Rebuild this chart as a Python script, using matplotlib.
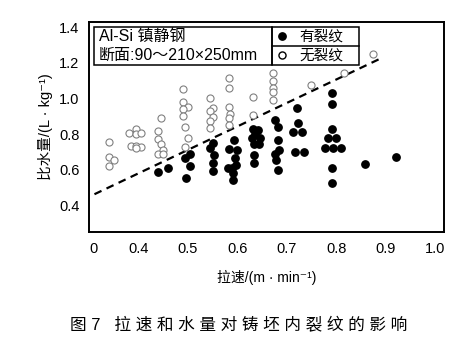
import matplotlib
matplotlib.use("Agg")
import matplotlib.pyplot as plt
from matplotlib.patches import Rectangle
import numpy as np

plt.rcParams['font.family'] = ['Liberation Sans', 'Noto Sans CJK SC', 'DejaVu Sans']

# ---- data ----
# no crack (open circles)
x_open = [0.34, 0.34, 0.35, 0.34,
          0.38, 0.395, 0.395, 0.405, 0.385, 0.395, 0.405, 0.395,
          0.445, 0.44, 0.44, 0.445, 0.45, 0.44, 0.45,
          0.49, 0.49, 0.50, 0.49, 0.49, 0.495, 0.50, 0.495,
          0.545, 0.55, 0.545, 0.55, 0.545, 0.545,
          0.583, 0.583, 0.583, 0.585, 0.583, 0.583,
          0.631, 0.631,
          0.672, 0.672, 0.672, 0.672, 0.672,
          0.75, 0.815, 0.875]
y_open = [0.755, 0.67, 0.655, 0.62,
          0.805, 0.83, 0.80, 0.805, 0.73, 0.73, 0.725, 0.72,
          0.89, 0.815, 0.77, 0.745, 0.71, 0.69, 0.69,
          1.05, 0.98, 0.95, 0.94, 0.90, 0.84, 0.78, 0.725,
          1.00, 0.945, 0.93, 0.895, 0.875, 0.835,
          1.115, 1.06, 0.95, 0.915, 0.89, 0.85,
          1.01, 0.905,
          1.14, 1.10, 1.06, 1.035, 0.99,
          1.075, 1.14, 1.25]

# crack (filled dots)
x_crack = [0.44, 0.46,
           0.505, 0.495, 0.505, 0.497,
           0.55, 0.545, 0.552, 0.55, 0.55,
           0.593, 0.583, 0.599, 0.595, 0.581, 0.589, 0.597, 0.591, 0.591,
           0.631, 0.641, 0.635, 0.645, 0.629, 0.633, 0.643, 0.633, 0.633,
           0.676, 0.682, 0.682, 0.684, 0.676, 0.678, 0.682,
           0.72, 0.722, 0.713, 0.73, 0.716, 0.734,
           0.791, 0.791, 0.791, 0.783, 0.80, 0.777, 0.794, 0.81, 0.791, 0.791,
           0.858, 0.921]
y_crack = [0.585, 0.61,
           0.69, 0.665, 0.62, 0.555,
           0.75, 0.72, 0.68, 0.635, 0.59,
           0.765, 0.715, 0.71, 0.665, 0.61, 0.61, 0.625, 0.58, 0.54,
           0.83, 0.82, 0.80, 0.78, 0.775, 0.743, 0.743, 0.68, 0.636,
           0.88, 0.84, 0.765, 0.71, 0.69, 0.655, 0.60,
           0.945, 0.86, 0.81, 0.81, 0.70, 0.70,
           1.03, 0.97, 0.83, 0.775, 0.775, 0.72, 0.72, 0.72, 0.61, 0.525,
           0.63, 0.67]

# boundary line
line_x = [0.311, 0.895]
line_y = [0.462, 1.231]

xticks = [0.31, 0.4, 0.5, 0.6, 0.7, 0.8, 0.9, 1.0]
xtick_labels = ['0', '0.4', '0.5', '0.6', '0.7', '0.8', '0.9', '1.0']
yticks = [0.4, 0.6, 0.8, 1.0, 1.2, 1.4]
ytick_labels = ['0.4', '0.6', '0.8', '1.0', '1.2', '1.4']

fig = plt.figure(figsize=(4.72, 3.52), dpi=100)
ax = fig.add_axes([0.1886, 0.341, 0.752, 0.597])

ax.scatter(x_open, y_open, s=26, facecolors='white', edgecolors='#808080', linewidths=0.8, zorder=3)
ax.scatter(x_crack, y_crack, s=28, c='black', zorder=4)
ax.plot(line_x, line_y, color='black', ls=(0, (3.5, 2.5)), lw=1.6, zorder=2)

ax.set_xlim(0.30, 1.018)
ax.set_ylim(0.25, 1.43)
ax.set_xticks(xticks)
ax.set_xticklabels(xtick_labels)
ax.set_yticks(yticks)
ax.set_yticklabels(ytick_labels)
ax.tick_params(length=0, labelsize=10.5, pad=7)
for sp in ax.spines.values():
    sp.set_linewidth(1.4)

ax.set_xlabel('拉速/(m · min⁻¹)', fontsize=10, labelpad=10)
ax.set_ylabel('比水量/(L · kg⁻¹)', fontsize=10.5, labelpad=4)

# boxes on top
tr = ax.transAxes
ax.add_patch(Rectangle((0.014, 0.795), 0.501, 0.181, transform=tr, fill=False, lw=1.1, zorder=5))
ax.add_patch(Rectangle((0.515, 0.795), 0.246, 0.181, transform=tr, fill=False, lw=1.1, zorder=5))
ax.plot([0.515, 0.761], [0.886, 0.886], transform=tr, color='black', lw=1.1, zorder=5)
ax.text(0.027, 0.931, 'Al-Si 镇静钢', transform=tr, fontsize=11.5, va='center', ha='left')
ax.text(0.027, 0.840, '断面:90～210×250mm', transform=tr, fontsize=11.5, va='center', ha='left')
ax.scatter([0.545], [0.931], s=28, c='black', transform=tr, zorder=6, clip_on=False)
ax.scatter([0.545], [0.840], s=26, facecolors='white', edgecolors='black', linewidths=1.0,
           transform=tr, zorder=6, clip_on=False)
ax.text(0.655, 0.931, '有裂纹', transform=tr, fontsize=10.5, va='center', ha='center')
ax.text(0.655, 0.840, '无裂纹', transform=tr, fontsize=10.5, va='center', ha='center')

caption = '图 7' + '   ' + ' '.join('拉速和水量对铸坯内裂纹的影响')
fig.text(0.505, 0.077, caption, fontsize=12, ha='center', va='center')

fig.savefig('out.png', dpi=100)
